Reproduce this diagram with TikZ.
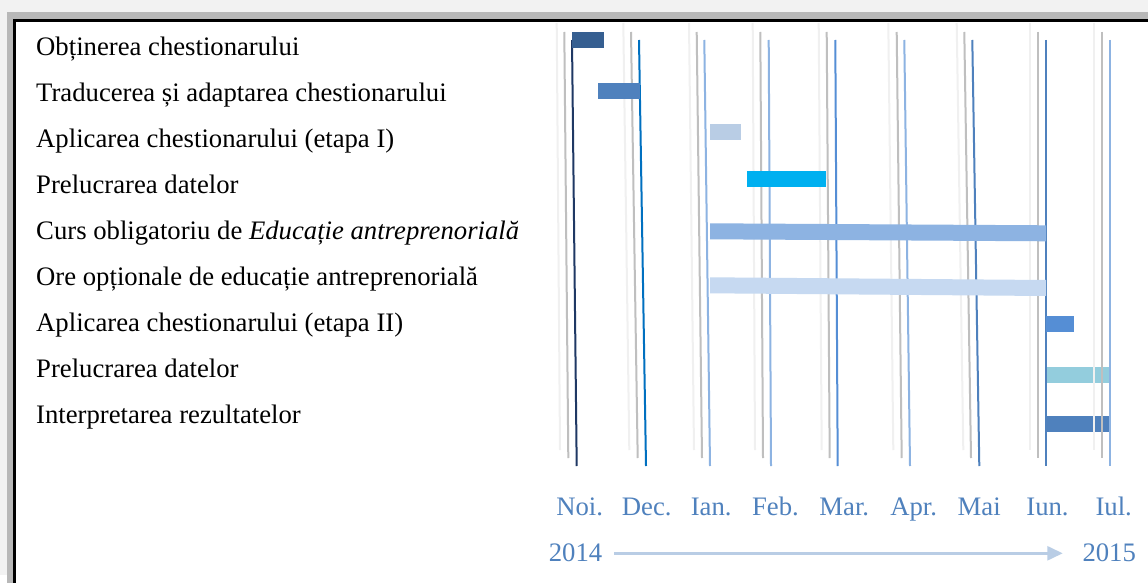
\documentclass[tikz,border=0pt]{standalone}
\usepackage{fontspec}
\setmainfont{Liberation Serif}
\usetikzlibrary{arrows.meta}

\definecolor{pagegray}{HTML}{F2F2F2}
\definecolor{framegray}{HTML}{B8B8B8}
\definecolor{gridlight}{HTML}{F0F0F0}
\definecolor{gridgray}{HTML}{BFBFBF}
\definecolor{navyline}{HTML}{1F3864}
\definecolor{oceanline}{HTML}{0070C0}
\definecolor{skyblue}{HTML}{8DB3E2}
\definecolor{steelblue}{HTML}{4F81BD}
\definecolor{cornflower}{HTML}{558ED5}
\definecolor{paleblue}{HTML}{B9CDE5}
\definecolor{cyanbar}{HTML}{00B0F0}
\definecolor{mistblue}{HTML}{C6D9F1}
\definecolor{aquabar}{HTML}{93CDDD}
\definecolor{deepblue}{HTML}{365F91}
\definecolor{monthblue}{HTML}{4F81BD}

\tikzset{
  task/.style={anchor=base west, inner sep=0pt, text=black,
    font=\fontsize{26.7}{30}\selectfont},
  month/.style={anchor=base, inner sep=0pt, text=monthblue,
    font=\fontsize{26.7}{30}\selectfont},
  lightrule/.style={gridlight, line width=2pt},
  grayrule/.style={gridgray, line width=2pt},
  monthrule/.style={line width=2pt},
  timeline/.style={paleblue, line width=2.6pt,
    -{Triangle[length=15.4pt, width=14pt]}},
}

\begin{document}
\begin{tikzpicture}[x=1pt, y=-1pt]
\useasboundingbox (0,0) rectangle (1148,583);

% page background and framed panel
\fill[white] (0,0) rectangle (1148,583);
\fill[pagegray] (0,0) rectangle (1148,575);
\fill[framegray] (7,12) rectangle (1148,583);
\fill[white] (14,20) rectangle (1148,583);
\draw[black, line width=2.6pt] (14.7,583) -- (14.7,20.7) -- (1148,20.7);

% bars that sit behind the month rules
\fill[aquabar]  (1046,366.7) rectangle (1109.3,382.7);
\fill[steelblue] (1046,416) rectangle (1109.3,432);

% month rules: faint, gray and coloured line for each month
\foreach \la/\lb/\ga/\gb/\ca/\cb/\cc in {
    556.7/560/564.3/568.3/572/576.7/navyline,
    623.3/629.3/631/637.7/639/646/oceanline,
    689/694/696.7/702/704.3/710/skyblue,
    752.7/755/760.3/763/768.7/771/skyblue,
    818.7/821.7/826.7/829.7/835.3/837.7/cornflower,
    888.3/893.3/896.7/901.7/904.3/910/skyblue,
    956.7/963.3/964.3/971/972.3/979.3/steelblue,
    1030/1030/1038/1038/1046/1046/steelblue,
    1094/1094/1102/1102/1110/1110/skyblue}
{
  \draw[lightrule] (\la,23) -- (\lb,450);
  \draw[grayrule] (\ga,32) -- (\gb,458);
  \draw[monthrule, \cc] (\ca,40) -- (\cb,466);
}

% task bars
\fill[deepblue]   (572.3,32.3) rectangle (604.3,48.3);
\fill[steelblue]  (598,82.7) rectangle (640,98.7);
\fill[paleblue]   (710,124) rectangle (740.7,140);
\fill[cyanbar]    (747.3,171) rectangle (826,186.7);
\fill[skyblue]    (710,223.3) -- (1046,225.3) -- (1046,241.3) -- (710,239.3) -- cycle;
\fill[mistblue]   (710,277.3) -- (1046,280) -- (1046,296) -- (710,293.3) -- cycle;
\fill[cornflower] (1046,316) rectangle (1074,332);

% task names
\node[task] (t1) at (36,55.5) {Obținerea chestionarului};
\node[task] (t2) at (36,101.5) {Traducerea și adaptarea chestionarului};
\node[task] (t3) at (36,147.5) {Aplicarea chestionarului (etapa I)};
\node[task] (t4) at (36,193.5) {Prelucrarea datelor};
\node[task] (t5) at (36,239.5) {Curs obligatoriu de \textit{Educație antreprenorială}};
\node[task] (t6) at (36,285.5) {Ore opționale de educație antreprenorială};
\node[task] (t7) at (36,331.5) {Aplicarea chestionarului (etapa II)};
\node[task] (t8) at (36,377.5) {Prelucrarea datelor};
\node[task] (t9) at (36,423.5) {Interpretarea rezultatelor};

% month axis
\node[month] (mnoi) at (579.7,515) {Noi.};
\node[month] (mdec) at (646.7,515) {Dec.};
\node[month] (mian) at (711.2,515) {Ian.};
\node[month] (mfeb) at (775.5,515) {Feb.};
\node[month] (mmar) at (844.3,515) {Mar.};
\node[month] (mapr) at (913.7,515) {Apr.};
\node[month] (mmai) at (979.2,515) {Mai};
\node[month] (miun) at (1047.5,515) {Iun.};
\node[month] (miul) at (1113.7,515) {Iul.};

% years and time arrow
\node[month] (y2014) at (575.5,561) {2014};
\node[month] (y2015) at (1109.2,561) {2015};
\coordinate (tlstart) at (614,553.3);
\coordinate (tlend) at (1062.7,553.3);
\draw[timeline] (tlstart) -- (tlend);
\end{tikzpicture}
\end{document}
